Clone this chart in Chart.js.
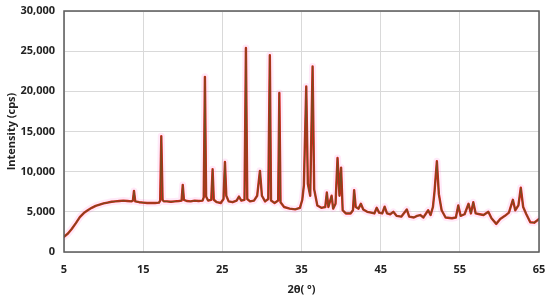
<!DOCTYPE html>
<html>
<head>
<meta charset="utf-8">
<script src="https://cdn.jsdelivr.net/npm/chart.js@4.4.1/dist/chart.umd.min.js"></script>
<style>
  html, body { margin: 0; padding: 0; background: #fff; }
  #wrap { width: 550px; height: 304px; }
</style>
</head>
<body>
<div id="wrap"><canvas id="xrd"></canvas></div>
<script>
// 2θ positions (deg) and intensities (cps)
const twoTheta = [
  5.0, 5.5, 6.0, 6.5, 7.0, 7.5, 8.0, 8.5, 9.0, 9.5, 10.0, 10.5, 11.0, 11.5, 12.0, 12.5, 13.0, 13.5,
  13.7, 13.84, 14.0, 14.5, 15.0, 15.5, 16.0, 16.5, 17.0, 17.15, 17.29, 17.45, 17.6, 18.0, 18.5, 19.0,
  19.5, 19.85, 20.0, 20.15, 20.5, 21.0, 21.5, 22.0, 22.5, 22.65, 22.8, 22.95, 23.2, 23.6, 23.77, 23.92,
  24.3, 24.8, 25.15, 25.33, 25.5, 25.8, 26.3, 26.8, 27.1, 27.4, 27.8, 27.98, 28.15, 28.5, 29.0, 29.4,
  29.75, 30.0, 30.4, 30.8, 31.0, 31.15, 31.6, 32.05, 32.2, 32.35, 32.8, 33.5, 34.2, 34.8, 35.1, 35.3,
  35.6, 35.8, 36.1, 36.4, 36.6, 37.0, 37.5, 38.0, 38.2, 38.4, 38.8, 39.0, 39.3, 39.55, 39.8, 40.0,
  40.2, 40.6, 41.2, 41.5, 41.65, 41.85, 42.2, 42.5, 42.8, 43.3, 43.8, 44.2, 44.5, 44.8, 45.2, 45.5,
  45.8, 46.2, 46.6, 47.0, 47.6, 48.3, 48.6, 49.2, 49.6, 50.0, 50.4, 51.0, 51.3, 51.6, 51.8, 52.1,
  52.35, 52.7, 53.2, 54.0, 54.5, 54.8, 55.1, 55.6, 56.1, 56.4, 56.7, 57.0, 57.5, 58.0, 58.6, 59.0,
  59.6, 60.1, 60.7, 61.2, 61.7, 62.0, 62.4, 62.7, 63.0, 63.4, 63.9, 64.4, 65.0
];
const intensity = [
  1900, 2300, 2900, 3600, 4350, 4850, 5200, 5500, 5750, 5900, 6050, 6150, 6250, 6300, 6350, 6400, 6350, 6300,
  6400, 7600, 6300, 6200, 6150, 6100, 6100, 6100, 6150, 6400, 14400, 6500, 6300, 6300, 6250, 6300,
  6350, 6400, 8350, 6500, 6350, 6300, 6400, 6350, 6400, 6800, 21800, 6900, 6400, 6500, 10300, 6500,
  6200, 6100, 6600, 11200, 7000, 6300, 6200, 6400, 6900, 6400, 6500, 25400, 6600, 6300, 6400, 7000,
  10100, 7000, 6300, 6600, 24500, 6400, 6100, 6400, 19800, 6200, 5600, 5400, 5300, 5500, 6500, 8300,
  20600, 8500, 7000, 23100, 7800, 5800, 5500, 5600, 7400, 5600, 7000, 5400, 6000, 11700, 7000, 10500,
  5200, 4800, 4800, 5200, 7700, 5600, 5400, 6000, 5300, 5000, 4900, 4800, 5500, 4900, 4800, 5650,
  4800, 4700, 5000, 4500, 4400, 5300, 4400, 4300, 4500, 4600, 4300, 5200, 4600, 5600, 7500, 11300,
  7200, 5200, 4300, 4200, 4300, 5800, 4500, 4700, 6000, 4800, 6200, 4800, 4700, 4600, 5000, 4200,
  3500, 4100, 4500, 4900, 6500, 5200, 5800, 8000, 5600, 4700, 3700, 3650, 4100
];
const xTickMin = 5, xTickMax = 65, xStep = 10;
const yTickMin = 0, yTickMax = 30000, yStep = 5000;

const points = twoTheta.map((t, i) => ({ x: t, y: intensity[i] }));

const tickFont = { family: "'Open Sans', 'DejaVu Sans', sans-serif", size: 11, weight: 'bold' };

// box around the plot area
const frame = {
  id: 'frame',
  afterDraw(chart) {
    const { ctx, chartArea: a } = chart;
    ctx.save();
    ctx.strokeStyle = '#5a5a5a';
    ctx.lineWidth = 1.5;
    ctx.strokeRect(a.left, a.top, a.right - a.left, a.bottom - a.top);
    ctx.restore();
  }
};

new Chart(document.getElementById('xrd'), {
  type: 'line',
  data: {
    datasets: [
      // order: lower draws on top
      { data: points, borderColor: '#7b4a1e', borderWidth: 1.2, order: 0 },
      { data: points, borderColor: '#d8251b', borderWidth: 2.4, order: 1 },
      { data: points, borderColor: 'rgba(255,120,210,0.16)', borderWidth: 7, order: 2 }
    ]
  },
  options: {
    responsive: true,
    maintainAspectRatio: false,
    animation: false,
    layout: { padding: { top: 11, right: 11, left: 0, bottom: 0 } },
    elements: {
      point: { radius: 0 },
      line: { tension: 0, borderJoinStyle: 'round', borderCapStyle: 'round' }
    },
    plugins: { legend: { display: false }, tooltip: { enabled: false } },
    scales: {
      x: {
        type: 'linear',
        min: xTickMin, max: xTickMax,
        afterFit(scale) { scale.height = 52; scale.paddingLeft = 0; scale.paddingRight = 0; },
        ticks: { stepSize: xStep, color: '#222', font: tickFont, padding: 11, maxRotation: 0 },
        grid: { color: '#d9d9d9', drawTicks: false },
        border: { display: false },
        title: { display: true, text: '2θ( °)', color: '#222', font: tickFont, padding: { top: 0, bottom: 8 } }
      },
      y: {
        min: yTickMin, max: yTickMax,
        afterFit(scale) { scale.width = 64; scale.paddingTop = 0; scale.paddingBottom = 0; },
        ticks: { stepSize: yStep, color: '#222', font: tickFont, padding: 9 },
        grid: { color: '#d9d9d9', drawTicks: false },
        border: { display: false },
        title: { display: true, text: 'Intensity (cps)', color: '#222', font: tickFont, padding: { top: 5, bottom: 0 } }
      }
    }
  },
  plugins: [frame]
});
</script>
</body>
</html>
